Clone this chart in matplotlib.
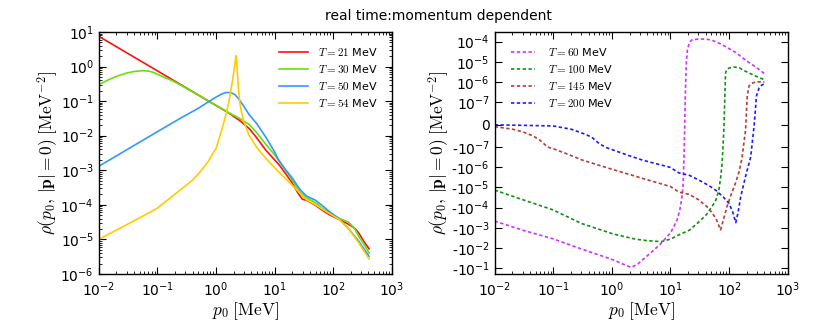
import numpy as np
import matplotlib
matplotlib.use('Agg')
import matplotlib.pyplot as plt
from matplotlib.ticker import FixedLocator, FuncFormatter, NullLocator

plt.rcParams['mathtext.fontset'] = 'cm'
plt.rcParams['font.family'] = 'DejaVu Sans'

# ---- left panel: rho(p0) for low temperatures ----
p0_21 = [0.01, 0.03, 0.1, 0.3, 1.0, 1.7, 2.0, 2.5, 3.7, 5.0, 7.1, 10, 11.7, 15, 20, 25, 29.7, 35, 42, 50, 65, 85, 117, 150, 199, 240, 275, 330, 410]
rho_21 = [7.5, 2.5, 0.75, 0.25, 0.075, 0.044, 0.036, 0.028, 0.016, 8.5e-3, 3.8e-3, 2e-3, 1.5e-3, 8.5e-4, 4.3e-4, 2.2e-4, 1.45e-4, 1.35e-4, 1.15e-4, 9.6e-5, 7e-5, 5.2e-5, 4e-5, 3.3e-5, 2.5e-5, 2e-5, 1.5e-5, 9e-6, 5.3e-6]

p0_30 = [0.01, 0.015, 0.02, 0.03, 0.04, 0.055, 0.07, 0.085, 0.1, 0.13, 0.18, 0.25, 0.4, 1.0, 1.7, 2.5, 3.7, 5, 7.1, 10, 11.7, 15, 20, 27, 35, 50, 65, 85, 125, 185, 230, 275, 330, 410]
rho_30 = [0.3, 0.42, 0.52, 0.65, 0.72, 0.76, 0.74, 0.68, 0.6, 0.49, 0.39, 0.29, 0.185, 0.075, 0.045, 0.032, 0.021, 0.012, 5.6e-3, 2.8e-3, 1.9e-3, 1.05e-3, 5.2e-4, 2.4e-4, 1.6e-4, 1.15e-4, 8e-5, 6e-5, 4.1e-5, 3.1e-5, 2.1e-5, 1.2e-5, 7.5e-6, 4e-6]

p0_50 = [0.01, 0.03, 0.1, 0.24, 0.5, 0.74, 1.0, 1.25, 1.5, 1.8, 2.1, 2.5, 3.0, 3.7, 5.0, 7.1, 10, 11.7, 15, 20, 27, 35, 50, 65, 85, 125, 185, 275, 330, 410]
rho_50 = [1.3e-3, 3.9e-3, 0.013, 0.031, 0.062, 0.095, 0.13, 0.16, 0.178, 0.175, 0.155, 0.11, 0.07, 0.04, 0.022, 9e-3, 3.4e-3, 2e-3, 1.1e-3, 6e-4, 2.8e-4, 1.8e-4, 1.35e-4, 9.5e-5, 6.5e-5, 4e-5, 2e-5, 8.7e-6, 5.5e-6, 3.2e-6]

p0_54 = [0.01, 0.037, 0.1, 0.135, 0.24, 0.39, 0.52, 0.74, 0.88, 1.0, 1.3, 1.5, 1.67, 1.81, 1.92, 2.0, 2.1, 2.16, 2.2, 2.25, 2.32, 2.43, 2.55, 2.75, 3.0, 3.7, 5.0, 7.1, 11.7, 17.8, 25, 35, 50, 80, 125, 185, 275, 410]
rho_54 = [1e-5, 3.2e-5, 8e-5, 1.2e-4, 2.6e-4, 5e-4, 8.4e-4, 1.8e-3, 3e-3, 4.2e-3, 0.018, 0.045, 0.1, 0.22, 0.4, 0.65, 1.2, 1.7, 2.05, 1.4, 0.7, 0.2, 0.09, 0.045, 0.025, 0.01, 4.5e-3, 2.2e-3, 9e-4, 4.5e-4, 2.5e-4, 1.4e-4, 1e-4, 6e-5, 3.8e-5, 2e-5, 7.8e-6, 2.7e-6]

# ---- right panel: rho(p0) for high temperatures (symlog) ----
p0_60 = [0.01, 0.03, 0.1, 0.3, 1.05, 1.6, 2.15, 2.8, 3.9, 6.5, 10, 13, 14.5, 15.5, 16.3, 16.8, 17.2, 17.5, 17.8, 18.2, 18.7, 19.5, 21, 23, 30, 40, 50, 70, 100, 130, 200, 300, 400]
rho_60 = [-4.6e-4, -1.3e-3, -3.5e-3, -1.1e-2, -0.038, -0.065, -0.091, -0.06, -0.026, -7e-3, -1.8e-3, -4e-4, -1.2e-4, -4e-5, -1e-5, -1e-6, -1e-7, 0, 1e-7, 1e-6, 1e-5, 4e-5, 9e-5, 1.2e-4, 1.35e-4, 1.33e-4, 1.2e-4, 8e-5, 4.5e-5, 2.9e-5, 1.1e-5, 5e-6, 2.6e-6]

p0_100 = [0.01, 0.03, 0.1, 0.3, 1.05, 2.5, 4, 7, 10, 14, 21, 31, 41, 51, 60, 67, 72, 76, 81.5, 84.7, 87, 92, 100, 122, 150, 191, 260, 400]
rho_100 = [-1.35e-5, -4e-5, -1.3e-4, -6e-4, -2e-3, -3.6e-3, -4.3e-3, -4.8e-3, -3.6e-3, -2.2e-3, -1.3e-3, -4.9e-4, -2.2e-4, -9e-5, -4e-5, -1.35e-5, -3e-6, -6.6e-7, -2.4e-8, 2e-7, 2.8e-6, 4.3e-6, 4.9e-6, 5.5e-6, 5e-6, 3.4e-6, 2.2e-6, 1.3e-6]

p0_145 = [0.01, 0.02, 0.03, 0.045, 0.059, 0.08, 0.1, 0.18, 0.32, 1.05, 3.4, 10, 14, 21, 30, 45, 60, 71.6, 80, 92, 110, 128, 150, 167, 191, 204, 218, 240, 283, 340, 400]
rho_145 = [-9e-9, -2e-8, -3.2e-8, -5e-8, -6.9e-8, -1e-7, -1.2e-7, -2.3e-7, -4.5e-7, -1.3e-6, -3.6e-6, -9e-6, -1.7e-5, -2.2e-5, -4e-5, -1.07e-4, -3.5e-4, -1.26e-3, -4e-4, -9e-5, -2e-5, -6.3e-6, -1.5e-6, -3.1e-7, -2.4e-8, 2e-7, 6.2e-7, 8.5e-7, 1e-6, 1.02e-6, 1e-6]

p0_200 = [0.01, 0.03, 0.1, 0.2, 0.32, 0.45, 0.61, 0.8, 0.91, 1.2, 2, 3.4, 9.8, 14, 21, 31, 45, 59, 80, 100, 115, 130, 142, 158, 190, 234, 270, 293, 325, 360, 400]
rho_200 = [-1e-9, -3e-9, -6e-9, -2e-8, -3.9e-8, -5.5e-8, -8.5e-8, -1.05e-7, -1.2e-7, -1.6e-7, -2.7e-7, -4.5e-7, -1e-6, -1.9e-6, -2.5e-6, -4.4e-6, -8e-6, -1.35e-5, -3e-5, -6.2e-5, -1.6e-4, -5.5e-4, -1.8e-4, -2.9e-5, -3e-6, -3.1e-7, 6e-9, 2e-7, 5.1e-7, 7e-7, 8.3e-7]

sym_ticks = [1e-4, 1e-5, 1e-6, 1e-7, 0, -1e-7, -1e-6, -1e-5, -1e-4, -1e-3, -1e-2, -1e-1]

ylabel = r'$\rho(p_0,\,|\mathbf{p}|=0)\;[\mathrm{MeV}^{-2}]$'
xlabel = r'$p_0\;[\mathrm{MeV}]$'


def sym_fmt(v, pos):
    if v == 0:
        return '0'
    e = int(round(np.log10(abs(v))))
    s = '-' if v < 0 else ''
    # plain hyphen outside math, like the original labels
    return s + r'$\mathdefault{10^{%d}}$' % e


fig = plt.figure(figsize=(8.3, 3.23), dpi=100)
fig.text(0.528, 0.95, 'real time:momentum dependent', ha='center', va='center', fontsize=10)

ax1 = fig.add_axes([0.119, 0.152, 0.353, 0.749])
ax1.plot(p0_21, rho_21, color='#ff1010', lw=1.2, label=r'$T=21$ MeV')
ax1.plot(p0_30, rho_30, color='#66e010', lw=1.2, label=r'$T=30$ MeV')
ax1.plot(p0_50, rho_50, color='#3399ff', lw=1.2, label=r'$T=50$ MeV')
ax1.plot(p0_54, rho_54, color='#ffcc00', lw=1.2, label=r'$T=54$ MeV')
ax1.set_xscale('log')
ax1.set_yscale('log')
ax1.set_xlim(1e-2, 1e3)
ax1.set_ylim(1e-6, 1e1)
ax1.legend(loc='upper right', frameon=False, fontsize=8, handlelength=2.6,
           handletextpad=0.9, labelspacing=0.45, bbox_to_anchor=(0.985, 0.985))

ax2 = fig.add_axes([0.596, 0.152, 0.353, 0.749])
ax2.plot(p0_60, rho_60, color='#cc33ff', lw=1.2, dashes=(2, 1.5), label=r'$T=60$ MeV')
ax2.plot(p0_100, rho_100, color='#109010', lw=1.2, dashes=(2, 1.5), label=r'$T=100$ MeV')
ax2.plot(p0_145, rho_145, color='#b83a3a', lw=1.2, dashes=(2, 1.5), label=r'$T=145$ MeV')
ax2.plot(p0_200, rho_200, color='#1a1aff', lw=1.2, dashes=(2, 1.5), label=r'$T=200$ MeV')
ax2.set_xscale('log')
ax2.set_yscale('symlog', linthresh=1e-7)
ax2.set_xlim(1e-2, 1e3)
ax2.set_ylim(-0.19, 3e-4)
ax2.yaxis.set_major_locator(FixedLocator(sym_ticks))
ax2.yaxis.set_major_formatter(FuncFormatter(sym_fmt))
ax2.yaxis.set_minor_locator(NullLocator())
ax2.legend(loc='upper left', frameon=False, fontsize=8, handlelength=2.2,
           handletextpad=1.2, labelspacing=0.45, bbox_to_anchor=(0.02, 0.985))

for ax, ylx in ((ax1, -0.133), (ax2, -0.15)):
    ax.set_xlabel(xlabel, fontsize=12.5)
    ax.set_ylabel(ylabel, fontsize=12.5)
    ax.xaxis.set_label_coords(0.5, -0.108)
    ax.yaxis.set_label_coords(ylx, 0.5)
    ax.tick_params(which='both', direction='in', top=True, right=True, labelsize=10)
    ax.tick_params(which='major', length=5, width=0.8, pad=3.5)
    ax.tick_params(which='minor', length=2.5, width=0.6)
    ax.tick_params(axis='x', which='major', pad=5)
    for sp in ax.spines.values():
        sp.set_linewidth(1.0)

fig.savefig('out.png', dpi=100)
